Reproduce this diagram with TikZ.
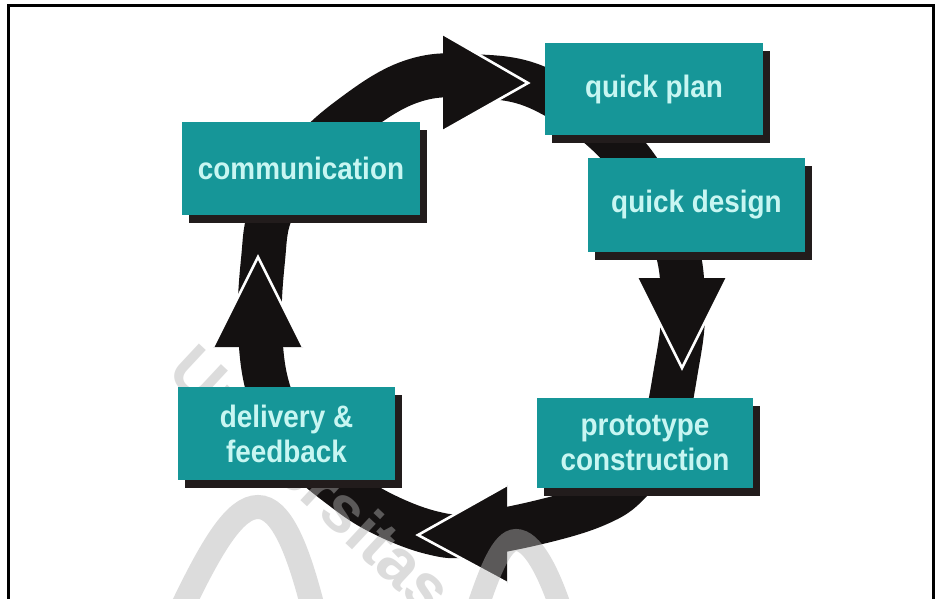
\documentclass[tikz,border=0pt]{standalone}
\usepackage{fontspec}
\newfontfamily\boxfont[FakeStretch=0.9]{Liberation Sans}
\newfontfamily\wmfont{Liberation Sans}
\usetikzlibrary{shadows}

\definecolor{tealbox}{RGB}{22,150,152}
\definecolor{boxtext}{RGB}{200,246,242}
\definecolor{shade}{RGB}{34,28,28}
\definecolor{ringc}{RGB}{20,17,17}

\begin{document}
\begin{tikzpicture}[x=1pt,y=-1pt,
  stagebox/.style={rectangle, fill=tealbox, text=boxtext, inner sep=0pt, align=center,
    font=\boxfont\bfseries\fontsize{31}{35}\selectfont,
    drop shadow={shadow xshift=7pt, shadow yshift=-8pt, fill=shade, opacity=1}},
  ring/.style={draw=ringc, line width=44pt},
  headtip/.style={fill=ringc},
  tipedge/.style={draw=white, line width=2.6pt, line join=miter},
  wmark/.style={gray!60, opacity=0.45}]

% page area and frame
\useasboundingbox (0,0) rectangle (935,599);
\fill[white] (0,0) rectangle (935,599);
\draw[line width=3pt, line join=miter] (8.5,605) -- (8.5,6) -- (933.5,6) -- (933.5,605);

% the circular flow band
\draw[ring] plot[smooth cycle, tension=0.65] coordinates {
  (470,76) (543,90) (623,150) (672,235) (683,305) (676,370) (660,440)
  (630,482) (598,504) (540,522) (470,535) (433,533) (385,515) (345,490)
  (300,450) (270,395) (260,330) (263,260) (272,210) (305,160) (350,118) (410,82)};

% arrowheads along the band
\coordinate (t1) at (443,34);  \coordinate (t2) at (528,83);  \coordinate (t3) at (443,131);
\coordinate (r1) at (637,278); \coordinate (r2) at (682,368); \coordinate (r3) at (727,278);
\coordinate (b1) at (507,485); \coordinate (b2) at (418,535); \coordinate (b3) at (507,583);
\coordinate (l1) at (213,347); \coordinate (l2) at (258,257); \coordinate (l3) at (303,347);

\fill[headtip] (t1) -- (t2) -- (t3) -- cycle;
\fill[headtip] (r1) -- (r2) -- (r3) -- cycle;
\fill[headtip] (b1) -- (b2) -- (b3) -- cycle;
\fill[headtip] (l1) -- (l2) -- (l3) -- cycle;

\draw[tipedge] (t1) -- (t2) -- (t3);
\draw[tipedge] (r1) -- (r2) -- (r3);
\draw[tipedge] (b1) -- (b2) -- (b3);
\draw[tipedge] (l1) -- (l2) -- (l3);

% faint watermark
\node[rotate=-43, text=gray!60, text opacity=0.45,
      font=\wmfont\bfseries\fontsize{66}{66}\selectfont] (wm) at (312,479) {Universitas};
\draw[wmark, line width=24pt] (180,612) .. controls (212,545) and (235,507) .. (258,507)
      .. controls (281,507) and (298,548) .. (314,612);
\draw[wmark, line width=22pt] (476,612) .. controls (490,570) and (502,540) .. (516,540)
      .. controls (532,540) and (548,570) .. (562,612);

% process stages
\node[stagebox, minimum width=238pt, minimum height=93pt] (comm)   at (301,168.5) {communication};
\node[stagebox, minimum width=218pt, minimum height=92pt] (plan)   at (654,89)    {quick plan};
\node[stagebox, minimum width=217pt, minimum height=94pt] (design) at (696.5,205) {quick design};
\node[stagebox, minimum width=216pt, minimum height=90pt] (proto)  at (645,443)   {prototype\\construction};
\node[stagebox, minimum width=217pt, minimum height=93pt] (deliv)  at (286.5,433.5) {delivery \&\\feedback};
\end{tikzpicture}
\end{document}
